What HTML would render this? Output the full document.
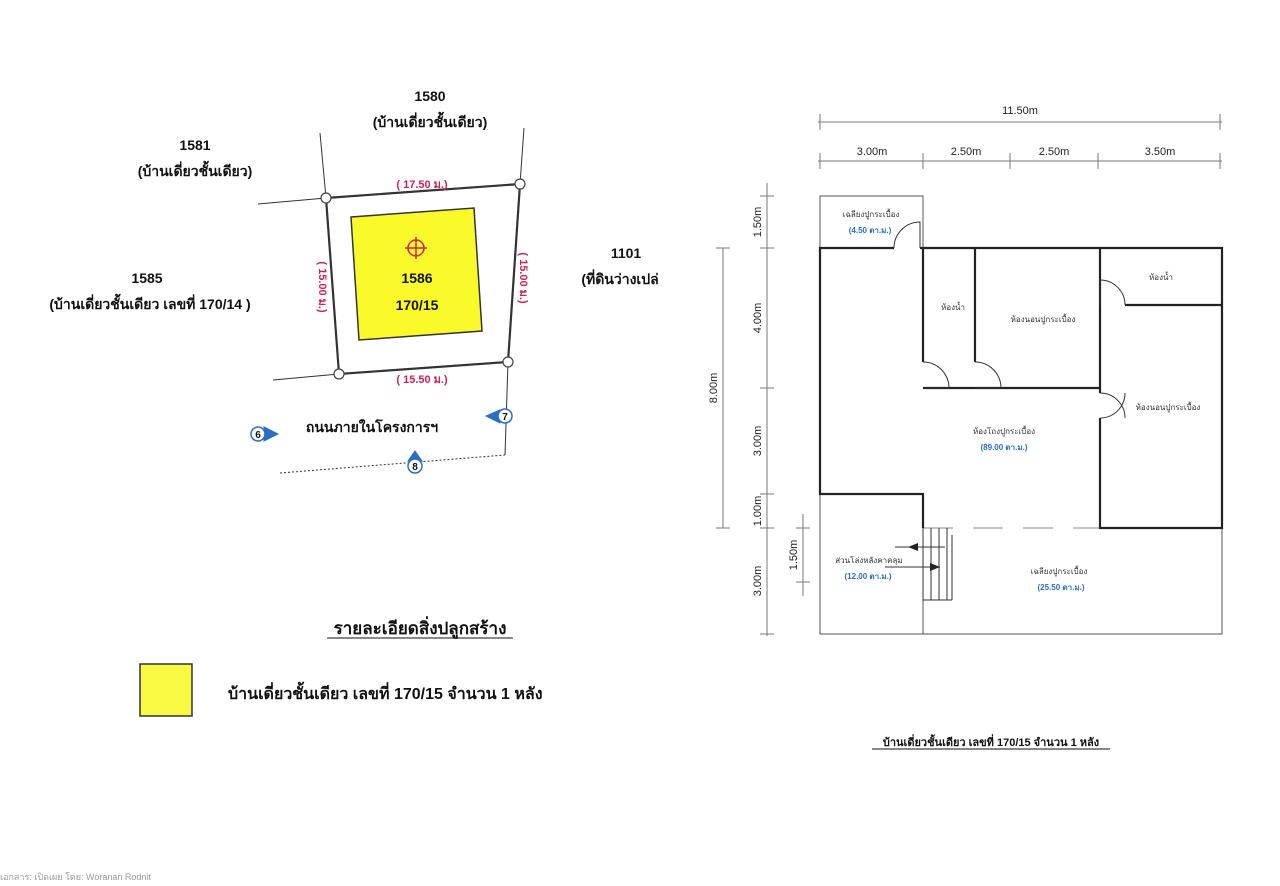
<!DOCTYPE html>
<html><head><meta charset="utf-8"><style>
html,body{margin:0;padding:0;background:#fff;}
svg{display:block;}
text{font-family:"Liberation Sans","DejaVu Sans","Noto Sans CJK SC",sans-serif;}
</style></head><body>
<svg width="1280" height="886" viewBox="0 0 1280 886" xmlns="http://www.w3.org/2000/svg">
<rect width="1280" height="886" fill="#fff"/>
<g stroke="#333" fill="none">
<line x1="320" y1="133" x2="326" y2="198" stroke-width="1"/>
<line x1="524" y1="128" x2="520" y2="184" stroke-width="1"/>
<line x1="258" y1="204" x2="326" y2="198" stroke-width="1"/>
<line x1="273" y1="380" x2="339" y2="374" stroke-width="1"/>
<line x1="508" y1="362" x2="505" y2="455" stroke-width="1"/>
<line x1="280" y1="473" x2="505" y2="455" stroke-width="1" stroke-dasharray="2,2"/>
<polygon points="326,198 520,184 508,362 339,374" stroke-width="2.2"/>
</g>
<polygon points="351,217 474,208 482,331 359,340" fill="#fafa2a" stroke="#333" stroke-width="1.5"/>
<g fill="#fff" stroke="#444" stroke-width="1.2">
<circle cx="326" cy="198" r="5"/><circle cx="520" cy="184" r="5"/><circle cx="508" cy="362" r="5"/><circle cx="339" cy="374" r="5"/>
</g>
<g stroke="#d0205a" stroke-width="1.5" fill="none">
<circle cx="416" cy="248" r="8"/><line x1="405" y1="248" x2="427" y2="248"/><line x1="416" y1="237" x2="416" y2="259"/>
</g>
<g font-weight="bold" font-size="14" fill="#111" text-anchor="middle">
<text x="417" y="283">1586</text>
<text x="417" y="310">170/15</text>
<text x="430" y="101">1580</text>
<text x="430" y="127">(บ้านเดี่ยวชั้นเดียว)</text>
<text x="195" y="150">1581</text>
<text x="195" y="176">(บ้านเดี่ยวชั้นเดียว)</text>
<text x="147" y="283">1585</text>
<text x="150" y="309">(บ้านเดี่ยวชั้นเดียว เลขที่ 170/14 )</text>
<text x="626" y="258">1101</text>
<text x="620" y="284">(ที่ดินว่างเปล่</text>
<text x="372" y="432" font-size="14">ถนนภายในโครงการฯ</text>
</g>
<g font-weight="bold" font-size="11" fill="#d0205a" text-anchor="middle">
<text x="422" y="188">( 17.50 ม.)</text>
<text x="422" y="383">( 15.50 ม.)</text>
<text transform="translate(319,287) rotate(90)">( 15.00 ม.)</text>
<text transform="translate(520,278) rotate(90)">( 15.00 ม.)</text>
</g>
<g fill="#2a6fc4" stroke="#2a6fc4">
<polygon points="264,427 278,434 264,441"/>
<polygon points="500,410 486,416 500,423"/>
<polygon points="415,451 408,461 422,461"/>
</g>
<g fill="#fff" stroke="#2a6fc4" stroke-width="1.5">
<circle cx="258" cy="434" r="7"/><circle cx="505" cy="416" r="7"/><circle cx="415" cy="466" r="7"/>
</g>
<g font-size="10" font-weight="bold" fill="#111" text-anchor="middle" font-family="Liberation Serif">
<text x="258" y="438">6</text><text x="505" y="420">7</text><text x="415" y="470">8</text>
</g>
<text x="420" y="634" font-weight="bold" font-size="17" fill="#111" text-anchor="middle">รายละเอียดสิ่งปลูกสร้าง</text>
<line x1="327" y1="638" x2="513" y2="638" stroke="#111" stroke-width="1"/>
<rect x="140" y="664" width="52" height="52" fill="#fafa44" stroke="#333" stroke-width="1.5"/>
<text x="228" y="699" font-weight="bold" font-size="16" fill="#111">บ้านเดี่ยวชั้นเดียว เลขที่ 170/15 จำนวน 1 หลัง</text>
<text x="0" y="880" font-size="9" fill="#999">เอกสาร: เปิดเผย โดย: Woranan Rodnit</text>
<g stroke="#777" stroke-width="1" fill="none">
<line x1="818" y1="122" x2="1222" y2="122"/>
<line x1="820" y1="114" x2="820" y2="130"/><line x1="1220" y1="114" x2="1220" y2="130"/>
<line x1="818" y1="161" x2="1222" y2="161"/>
<line x1="820" y1="153" x2="820" y2="169"/><line x1="923" y1="153" x2="923" y2="169"/><line x1="1010" y1="153" x2="1010" y2="169"/><line x1="1098" y1="153" x2="1098" y2="169"/><line x1="1220" y1="153" x2="1220" y2="169"/>
<line x1="767" y1="183" x2="767" y2="636"/>
<line x1="760" y1="196" x2="774" y2="196"/><line x1="760" y1="248" x2="774" y2="248"/><line x1="760" y1="388" x2="774" y2="388"/><line x1="760" y1="494" x2="774" y2="494"/><line x1="760" y1="528" x2="774" y2="528"/><line x1="760" y1="634" x2="774" y2="634"/>
<line x1="723" y1="248" x2="723" y2="528"/>
<line x1="716" y1="248" x2="730" y2="248"/><line x1="716" y1="528" x2="730" y2="528"/>
<line x1="803" y1="514" x2="803" y2="596"/>
<line x1="796" y1="528" x2="810" y2="528"/><line x1="796" y1="582" x2="810" y2="582"/>
</g>
<g font-size="11" fill="#222" text-anchor="middle">
<text x="1020" y="114">11.50m</text>
<text x="872" y="155">3.00m</text><text x="966" y="155">2.50m</text><text x="1054" y="155">2.50m</text><text x="1160" y="155">3.50m</text>
<text transform="translate(761,222) rotate(-90)">1.50m</text>
<text transform="translate(761,318) rotate(-90)">4.00m</text>
<text transform="translate(761,441) rotate(-90)">3.00m</text>
<text transform="translate(761,511) rotate(-90)">1.00m</text>
<text transform="translate(761,581) rotate(-90)">3.00m</text>
<text transform="translate(717,388) rotate(-90)">8.00m</text>
<text transform="translate(797,555) rotate(-90)">1.50m</text>
</g>
<g stroke="#555" stroke-width="1" fill="none">
<polyline points="820,248 820,196 923,196 923,248"/>
<polyline points="820,494 820,634 1222,634 1222,528"/>
<line x1="923" y1="528" x2="923" y2="634"/>
<line x1="923" y1="528" x2="1100" y2="528" stroke="#888" stroke-dasharray="30,20"/>
</g>
<g stroke="#222" stroke-width="2.2" fill="none">
<polyline points="894,248 820,248 820,494 923,494 923,528"/>
<polyline points="920,248 1222,248 1222,528 1100,528 1100,418"/>
<polyline points="1100,393 1100,248"/>
<line x1="923" y1="248" x2="923" y2="362"/>
<line x1="975" y1="248" x2="975" y2="362"/>
<line x1="923" y1="388" x2="1100" y2="388"/>
<line x1="1125" y1="305" x2="1222" y2="305"/>
</g>
<g stroke="#333" stroke-width="1" fill="none">
<path d="M894,248 A26,26 0 0 1 920,222 L920,248"/>
<path d="M923,362 A26,26 0 0 1 949,388 L923,388"/>
<path d="M975,362 A26,26 0 0 1 1001,388 L975,388"/>
<path d="M1100,393 A25,25 0 0 1 1125,418 M1100,418 A25,25 0 0 0 1125,393"/>
<path d="M1100,305 L1100,280 A25,25 0 0 1 1125,305"/>
<path d="M923,528 L923,600 M931,528 L931,600 M939,528 L939,600 M947,528 L947,600 M923,600 L952,600 M952,535 L952,600"/>
<path d="M895,547 L945,547 M885,567 L940,567"/>
</g>
<polygon points="908,547 918,543 918,551" fill="#222"/>
<polygon points="940,567 930,563 930,571" fill="#222"/>
<g font-size="8" fill="#333" text-anchor="middle">
<text x="871" y="217">เฉลียงปูกระเบื้อง</text>
<text x="953" y="310">ห้องน้ำ</text>
<text x="1043" y="322">ห้องนอนปูกระเบื้อง</text>
<text x="1161" y="280">ห้องน้ำ</text>
<text x="1168" y="410">ห้องนอนปูกระเบื้อง</text>
<text x="1004" y="434">ห้องโถงปูกระเบื้อง</text>
<text x="869" y="563">ส่วนโล่งหลังคาคลุม</text>
<text x="1059" y="574">เฉลียงปูกระเบื้อง</text>
</g>
<g font-size="8" fill="#2a6fc4" text-anchor="middle" font-weight="bold">
<text x="870" y="233">(4.50 ตา.ม.)</text>
<text x="1004" y="450">(89.00 ตา.ม.)</text>
<text x="868" y="579">(12.00 ตา.ม.)</text>
<text x="1061" y="590">(25.50 ตา.ม.)</text>
</g>
<text x="991" y="746" font-size="11" font-weight="bold" fill="#111" text-anchor="middle">บ้านเดี่ยวชั้นเดียว เลขที่ 170/15 จำนวน 1 หลัง</text>
<line x1="872" y1="749" x2="1110" y2="749" stroke="#111" stroke-width="1"/>
</svg>
</body></html>
